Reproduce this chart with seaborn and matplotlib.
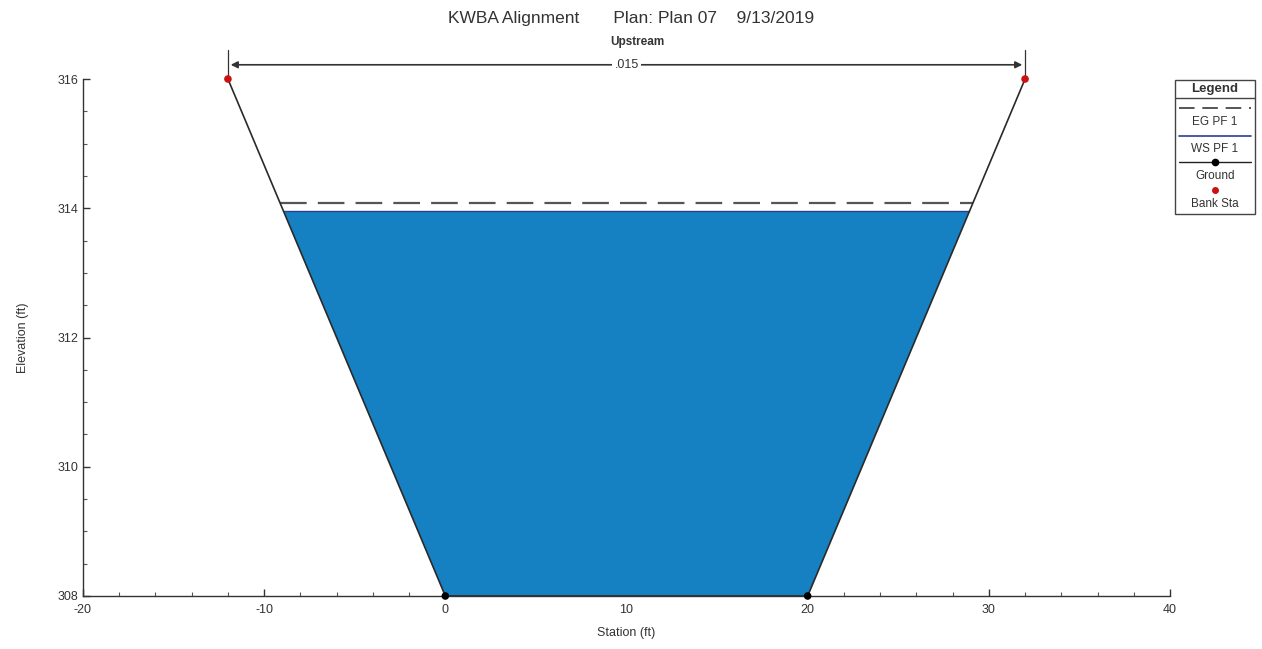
import numpy as np
import pandas as pd
import matplotlib
matplotlib.use("Agg")
import matplotlib.pyplot as plt
from matplotlib.lines import Line2D
import seaborn as sns

# ---- data ----
ground_station = [-12, 0, 20, 32]
ground_elev = [316, 308, 308, 316]
bank_station = [-12, 32]
bank_elev = [316, 316]
ws_elev = 313.95
eg_elev = 314.08
mannings_n = ".015"
title = "KWBA Alignment       Plan: Plan 07    9/13/2019"
subtitle = "Upstream"
xticks = [-20, -10, 0, 10, 20, 30, 40]
yticks = [308, 310, 312, 314, 316]
legend_labels = ["EG PF 1", "WS PF 1", "Ground", "Bank Sta"]

sns.set_theme(style="white")
plt.rcParams['font.family'] = ['Liberation Sans', 'DejaVu Sans']
plt.rcParams['axes.unicode_minus'] = False

fig = plt.figure(figsize=(12.62, 6.49), dpi=100)
ax = fig.add_axes([83/1262, 1-596/649, (1170-83)/1262, (596-79)/649])

df = pd.DataFrame({"Station": ground_station, "Elevation": ground_elev})

# intersections of water surfaces with side slopes
def side_x(z):
    left = np.interp(z, [ground_elev[1], ground_elev[0]], [ground_station[1], ground_station[0]])
    right = np.interp(z, [ground_elev[2], ground_elev[3]], [ground_station[2], ground_station[3]])
    return left, right

wl, wr = side_x(ws_elev)
el, er = side_x(eg_elev)

# water fill
ax.fill([wl, ground_station[1], ground_station[2], wr],
        [ws_elev, ground_elev[1], ground_elev[2], ws_elev],
        color="#1580c2", lw=0, zorder=1)
ax.plot([wl, wr], [ws_elev, ws_elev], color="#2a3f8f", lw=1.0, zorder=2)
ax.plot([el, er], [eg_elev, eg_elev], color="#555555", lw=1.6,
        dashes=(12, 5), zorder=2)

# ground
sns.lineplot(data=df, x="Station", y="Elevation", sort=False, color="#2a2a2a",
             lw=1.2, ax=ax, zorder=3, estimator=None)
sns.scatterplot(x=ground_station[1:3], y=ground_elev[1:3], color="black", s=30,
                ax=ax, zorder=6, edgecolor="none", clip_on=False)
sns.scatterplot(x=bank_station, y=bank_elev, color="#cc1111", s=30, ax=ax,
                zorder=6, edgecolor="none", clip_on=False)

ax.set_xlim(-20, 40)
ax.set_ylim(308, 316)
ax.set_xticks(xticks)
ax.set_yticks(yticks)
ax.set_xticks(np.arange(-20, 41, 2), minor=True)
ax.set_yticks(np.arange(308, 316.01, 0.5), minor=True)
ax.tick_params(axis="both", which="major", direction="in", length=5, width=1,
               labelsize=9, colors="#333333", left=True, bottom=True)
ax.tick_params(axis="both", which="minor", direction="in", length=3, width=0.8,
               left=True, bottom=True, colors="#555555")
ax.tick_params(axis="x", pad=6)
for s in ["top", "right"]:
    ax.spines[s].set_visible(False)
for s in ["left", "bottom"]:
    ax.spines[s].set_color("#333333")
    ax.spines[s].set_linewidth(1.0)
ax.set_xlabel("Station (ft)", fontsize=9, color="#333333", labelpad=8)
ax.set_ylabel("Elevation (ft)", fontsize=9, color="#333333", labelpad=20)

# n-value annotation at top
ytop = 316.22
for x in bank_station:
    ax.plot([x, x], [316.0, 316.45], color="#333333", lw=0.9, clip_on=False)
ax.annotate("", xy=(bank_station[0], ytop), xytext=(bank_station[1], ytop),
            arrowprops=dict(arrowstyle="<|-|>", color="#333333", lw=1.2,
                            mutation_scale=10), annotation_clip=False)
ax.text(np.mean(bank_station), ytop, mannings_n, ha="center", va="center",
        fontsize=9, color="#333333",
        bbox=dict(facecolor="white", edgecolor="none", pad=1.5), clip_on=False)

fig.text(0.5, 1-18/649, title, ha="center", va="center", fontsize=12.5,
         color="#333333")
fig.text(0.505, 1-42/649, subtitle, ha="center", va="center", fontsize=8.5,
         color="#333333", fontweight="bold")

# HEC-RAS style legend box
lx0, lx1 = 1175/1262, 1255/1262
ly_top, ly_bot = 1-80/649, 1-214/649
box = plt.Rectangle((lx0, ly_bot), lx1-lx0, ly_top-ly_bot, transform=fig.transFigure,
                    fill=False, edgecolor="#444444", lw=1.0)
fig.add_artist(box)
fig.text((lx0+lx1)/2, 1-89/649, "Legend", ha="center", va="center", fontsize=9.5,
         fontweight="bold", color="#333333")
fig.add_artist(Line2D([lx0, lx1], [1-98/649]*2, transform=fig.transFigure,
                      color="#444444", lw=1.0))
mx0, mx1 = lx0 + 4/1262, lx1 - 4/1262
fig.add_artist(Line2D([mx0, mx1], [1-108/649]*2, transform=fig.transFigure,
                      color="#555555", lw=1.4, dashes=(8, 4)))
fig.text((lx0+lx1)/2, 1-122/649, legend_labels[0], ha="center", va="center",
         fontsize=8.5, color="#333333")
fig.add_artist(Line2D([mx0, mx1], [1-136/649]*2, transform=fig.transFigure,
                      color="#2a3f8f", lw=1.2))
fig.text((lx0+lx1)/2, 1-149/649, legend_labels[1], ha="center", va="center",
         fontsize=8.5, color="#333333")
fig.add_artist(Line2D([mx0, mx1], [1-162/649]*2, transform=fig.transFigure,
                      color="#222222", lw=1.0))
fig.add_artist(Line2D([(lx0+lx1)/2], [1-162/649], transform=fig.transFigure,
                      color="black", marker="o", ms=4.5, lw=0))
fig.text((lx0+lx1)/2, 1-176/649, legend_labels[2], ha="center", va="center",
         fontsize=8.5, color="#333333")
fig.add_artist(Line2D([(lx0+lx1)/2], [1-190/649], transform=fig.transFigure,
                      color="#cc1111", marker="o", ms=4, lw=0))
fig.text((lx0+lx1)/2, 1-204/649, legend_labels[3], ha="center", va="center",
         fontsize=8.5, color="#333333")

fig.savefig("out.png", dpi=100)
